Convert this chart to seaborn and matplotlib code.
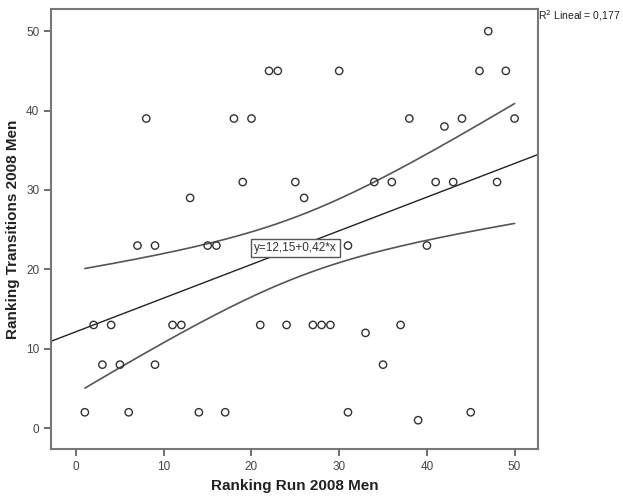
import numpy as np
import pandas as pd
import seaborn as sns
import matplotlib
matplotlib.use("Agg")
import matplotlib.pyplot as plt

# puntos (Run vs Transitions, 2008 Men)
run_rank = [1, 2, 3, 4, 5, 6, 7, 8, 9, 9, 11, 12, 13, 14, 15, 16, 17, 18, 19, 20,
            21, 22, 23, 24, 25, 26, 27, 28, 29, 30, 31, 31, 33, 34, 35, 36, 37, 38, 39, 40,
            41, 42, 43, 44, 45, 46, 47, 48, 49, 50]
trans_rank = [2, 13, 8, 13, 8, 2, 23, 39, 23, 8, 13, 13, 29, 2, 23, 23, 2, 39, 31, 39,
              13, 45, 45, 13, 31, 29, 13, 13, 13, 45, 23, 2, 12, 31, 8, 31, 13, 39, 1, 23,
              31, 38, 31, 39, 2, 45, 50, 31, 45, 39]
fit_label = "y=12,15+0,42*x"
r2_label = "R$^2$ Lineal = 0,177"
t_crit = 2.011  # t(0.975, 48)

df = pd.DataFrame({"run": run_rank, "trans": trans_rank})

sns.set_style("ticks")
plt.rcParams["font.family"] = ["Liberation Sans", "DejaVu Sans"]

fig = plt.figure(figsize=(6.23, 4.98), dpi=100)
ax = fig.add_axes([0.082, 0.098, 0.782, 0.884])

xlim = (-2.85, 52.7)
ylim = (-2.65, 52.8)

# ajuste lineal y bandas de confianza de la media
x = df["run"].to_numpy(float)
y = df["trans"].to_numpy(float)
n = len(x)
b, a = np.polyfit(x, y, 1)
resid = y - (a + b * x)
s = np.sqrt((resid ** 2).sum() / (n - 2))
sxx = ((x - x.mean()) ** 2).sum()

xs = np.linspace(x.min(), x.max(), 200)
yhat = a + b * xs
half = t_crit * s * np.sqrt(1 / n + (xs - x.mean()) ** 2 / sxx)

xfull = np.array(xlim)
ax.plot(xfull, a + b * xfull, color="#222222", lw=1.0, zorder=2)
ax.plot(xs, yhat + half, color="#555555", lw=1.2, zorder=2)
ax.plot(xs, yhat - half, color="#555555", lw=1.2, zorder=2)

sns.scatterplot(data=df, x="run", y="trans", ax=ax, s=28, marker="o",
                facecolor="none", edgecolor="#333333", linewidth=1.0, zorder=3)

ax.text(25, a + b * 25, fit_label, ha="center", va="center", fontsize=8.5,
        color="#333333", zorder=4,
        bbox=dict(boxstyle="square,pad=0.25", fc="white", ec="#555555", lw=1))
fig.text(0.864, 0.968, r2_label, ha="left", va="center", fontsize=7.5, color="#222222")

ax.set_xlim(*xlim)
ax.set_ylim(*ylim)
ax.set_xticks([0, 10, 20, 30, 40, 50])
ax.set_yticks([0, 10, 20, 30, 40, 50])
ax.tick_params(colors="#555555", labelcolor="#444444", labelsize=8.5,
               length=5, width=1.2, direction="out")
for sp in ax.spines.values():
    sp.set_color("#777777")
    sp.set_linewidth(1.5)

ax.set_xlabel("Ranking Run 2008 Men", fontsize=11, fontweight="bold", color="#222222")
ax.set_ylabel("Ranking Transitions 2008 Men", fontsize=11, fontweight="bold", color="#222222")

fig.savefig("out.png", dpi=100)
